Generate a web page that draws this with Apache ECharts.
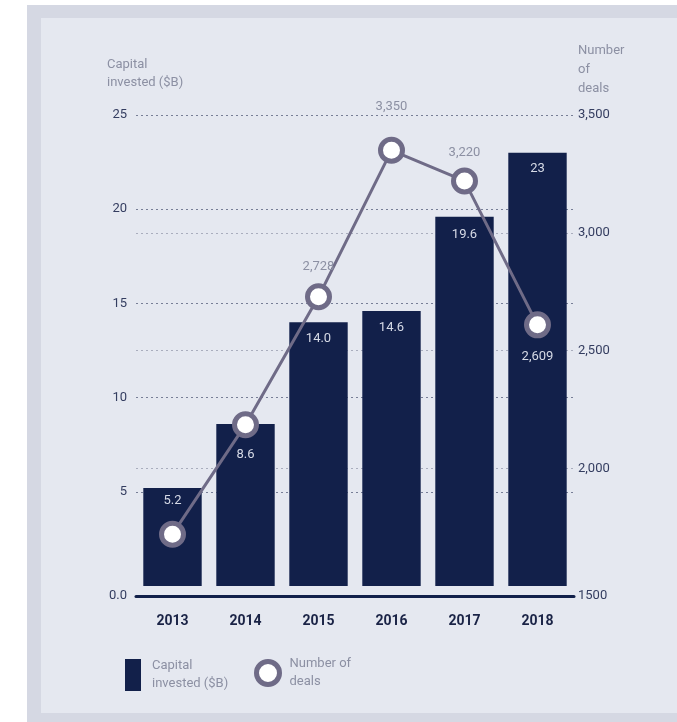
<!DOCTYPE html>
<html>
<head>
<meta charset="utf-8">
<script src="https://cdn.jsdelivr.net/npm/echarts@6/dist/echarts.min.js"></script>
<style>
html,body{margin:0;padding:0;background:#ffffff;}
#c{width:677px;height:722px;}
</style>
</head>
<body>
<div id="c"></div>
<script>
const years = ['2013', '2014', '2015', '2016', '2017', '2018'];
const capital = [5.2, 8.6, 14.0, 14.6, 19.6, 23];
const capitalLabels = ['5.2', '8.6', '14.0', '14.6', '19.6', '23'];
const deals = [1720, 2185, 2728, 3350, 3220, 2609];
const dealsLabels = ['', '', '2,728', '3,350', '3,220', '2,609'];
const leftTicks = [0, 5, 10, 15, 20, 25];
const rightTicks = [1500, 2000, 2500, 3000, 3500];

const FONT = 'Roboto';
const navy = '#12204a';
const lineCol = '#6f6b87';
const lightTxt = '#8c90a3';
const tickTxt = '#343d60';

const barLabelDist = [6, 24, 10, 10, 12, 10];
const dealLabelPos = ['top', 'top', 'top', 'top', 'top', 'bottom'];
const dealLabelDist = [8, 8, 10, 24, 8, 12];

const chart = echarts.init(document.getElementById('c'));
chart.setOption({
  backgroundColor: '#ffffff',
  animation: false,
  graphic: [
    {type: 'rect', shape: {x: 27, y: 5, width: 650, height: 717}, style: {fill: '#d5d8e3'}, z: -10},
    {type: 'rect', shape: {x: 41, y: 18, width: 636, height: 695}, style: {fill: '#e5e8f0'}, z: -9},
    {type: 'text', left: 107, top: 56, style: {text: 'Capital\ninvested ($B)', fill: lightTxt, font: '13px ' + FONT, lineHeight: 18}},
    {type: 'text', left: 578, top: 41, style: {text: 'Number\nof\ndeals', fill: lightTxt, font: '13px ' + FONT, lineHeight: 19}}
  ],
  grid: {left: 136, right: 103, top: 115, bottom: 136, containLabel: false},
  legend: [
    {
      left: 125, top: 657, padding: 0, itemWidth: 16, itemHeight: 32, icon: 'rect',
      data: [{name: 'Capital invested ($B)', itemStyle: {color: navy}}],
      formatter: () => 'Capital\ninvested ($B)',
      textStyle: {color: lightTxt, fontSize: 13, fontFamily: FONT, lineHeight: 18, padding: [0, 0, 0, 6]},
      selectedMode: false
    },
    {
      left: 254, top: 655, padding: 0, itemWidth: 23, itemHeight: 23, icon: 'circle',
      data: [{name: 'Number of deals', itemStyle: {color: '#ffffff', borderColor: lineCol, borderWidth: 5}}],
      formatter: () => 'Number of\ndeals',
      textStyle: {color: lightTxt, fontSize: 13, fontFamily: FONT, lineHeight: 18, padding: [0, 0, 0, 5]},
      selectedMode: false
    }
  ],
  xAxis: {
    type: 'category',
    data: years,
    offset: 10,
    axisLine: {onZero: false, lineStyle: {color: navy, width: 3}},
    axisTick: {show: false},
    axisLabel: {color: '#1a2346', fontWeight: 'bold', fontSize: 14, fontFamily: FONT, margin: 18}
  },
  yAxis: [
    {
      type: 'value', min: 0, max: 25, interval: 5, position: 'left',
      axisLine: {show: false}, axisTick: {show: false},
      axisLabel: {
        color: tickTxt, fontSize: 13, fontFamily: FONT, margin: 9,
        formatter: v => v === 0 ? '{z|0.0}' : String(v),
        rich: {z: {padding: [20, 0, 0, 0], color: tickTxt, fontSize: 13, fontFamily: FONT}}
      },
      splitLine: {show: true, showMinLine: false, lineStyle: {color: '#777e96', type: [2, 3], width: 1}}
    },
    {
      type: 'value', min: 1500, max: 3500, interval: 500, position: 'right',
      axisLine: {show: false}, axisTick: {show: false},
      axisLabel: {
        color: tickTxt, fontSize: 13, fontFamily: FONT, margin: 4,
        formatter: v => v === 1500 ? '{z|1500}' : v.toLocaleString('en-US'),
        rich: {z: {padding: [20, 0, 0, 0], color: tickTxt, fontSize: 13, fontFamily: FONT}}
      },
      splitLine: {show: true, showMinLine: false, showMaxLine: false, lineStyle: {color: '#a9adbd', type: [2, 3], width: 1}}
    }
  ],
  series: [
    {
      name: 'Capital invested ($B)',
      type: 'bar',
      yAxisIndex: 0,
      barCategoryGap: '20%',
      itemStyle: {color: navy},
      data: capital.map((v, i) => ({
        value: v,
        label: {show: true, position: 'insideTop', distance: barLabelDist[i], formatter: capitalLabels[i],
          color: '#d6dae6', fontSize: 13, fontFamily: FONT}
      })),
      z: 2
    },
    {
      name: 'Number of deals',
      type: 'line',
      yAxisIndex: 1,
      symbol: 'circle',
      symbolSize: 22,
      lineStyle: {color: lineCol, width: 3},
      itemStyle: {color: '#ffffff', borderColor: lineCol, borderWidth: 5},
      data: deals.map((v, i) => ({
        value: v,
        label: {show: dealsLabels[i] !== '', position: dealLabelPos[i], distance: dealLabelDist[i],
          formatter: dealsLabels[i], color: dealLabelPos[i] === 'bottom' ? '#d6dae6' : lightTxt, fontSize: 13, fontFamily: FONT}
      })),
      z: 5
    }
  ]
});
</script>
</body>
</html>
